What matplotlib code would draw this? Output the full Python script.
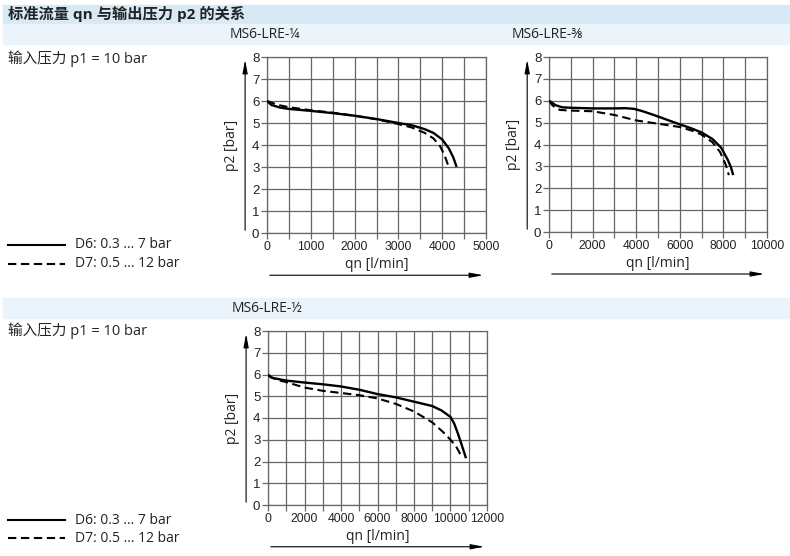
import numpy as np
import matplotlib.pyplot as plt
from matplotlib.patches import Rectangle

plt.rcParams['font.family'] = ['Open Sans', 'Noto Sans CJK SC', 'DejaVu Sans']
tickfont = ['Liberation Sans', 'DejaVu Sans']

# --- data (qn in l/min, p2 in bar) ---
q14_d6 = [0, 100, 300, 500, 1000, 1500, 2000, 2500, 3000, 3300, 3600, 3800, 4000, 4150, 4250, 4330]
p14_d6 = [6.0, 5.82, 5.7, 5.64, 5.55, 5.45, 5.33, 5.18, 5.0, 4.9, 4.72, 4.55, 4.25, 3.85, 3.45, 3.0]
q14_d7 = [0, 250, 500, 1000, 1500, 2000, 2500, 3000, 3300, 3600, 3800, 3950, 4050, 4150]
p14_d7 = [6.0, 5.82, 5.72, 5.58, 5.47, 5.33, 5.17, 4.95, 4.8, 4.55, 4.3, 3.95, 3.55, 3.0]

q38_d6 = [0, 150, 300, 600, 1000, 2000, 3000, 3500, 3900, 4300, 4600, 5000, 5500, 6000, 6500, 7000, 7500, 7900, 8200, 8350, 8450]
p38_d6 = [6.0, 5.9, 5.8, 5.7, 5.68, 5.65, 5.65, 5.66, 5.63, 5.52, 5.42, 5.28, 5.1, 4.92, 4.75, 4.55, 4.25, 3.85, 3.3, 2.95, 2.6]
q38_d7 = [0, 150, 300, 500, 1000, 2000, 3000, 4000, 5000, 6000, 6600, 7000, 7500, 7850, 8100, 8250]
p38_d7 = [6.0, 5.8, 5.68, 5.58, 5.55, 5.52, 5.35, 5.1, 4.95, 4.8, 4.62, 4.45, 4.1, 3.65, 3.1, 2.6]

q12_d6 = [0, 200, 1000, 2000, 3000, 4000, 5000, 6000, 7000, 8000, 9000, 9500, 10000, 10200, 10400, 10600, 10850]
p12_d6 = [6.0, 5.85, 5.72, 5.63, 5.55, 5.45, 5.3, 5.1, 4.95, 4.75, 4.55, 4.35, 4.05, 3.75, 3.3, 2.8, 2.15]
q12_d7 = [0, 500, 1000, 2000, 3000, 4000, 5000, 6000, 7000, 8000, 9000, 9600, 10000, 10300, 10620]
p12_d7 = [5.95, 5.75, 5.65, 5.4, 5.25, 5.15, 5.05, 4.9, 4.65, 4.3, 3.8, 3.35, 3.0, 2.7, 2.22]

titles = ['MS6-LRE-¼', 'MS6-LRE-⅜', 'MS6-LRE-½']
xlims = [5000, 10000, 12000]
xsteps = [500, 1000, 1000]
xlabsteps = [1000, 2000, 2000]
legend_labels = ['D6: 0.3 ... 7 bar', 'D7: 0.5 ... 12 bar']

W, H = 790, 556
fig = plt.figure(figsize=(W / 100, H / 100), dpi=100)

def fx(px):
    return px / W

def fy(py):
    return 1 - py / H

# header bands
fig.patches.append(Rectangle((fx(3), fy(24)), 1, 19 / H, transform=fig.transFigure,
                             color='#d6e9f4', zorder=0))
fig.patches.append(Rectangle((fx(3), fy(44)), 1, 20 / H, transform=fig.transFigure,
                             color='#eaf4fa', zorder=0))
fig.patches.append(Rectangle((fx(3), fy(318)), 1, 20 / H, transform=fig.transFigure,
                             color='#eaf4fa', zorder=0))

fig.text(fx(8), fy(14), '标准流量 qn 与输出压力 p2 的关系', fontsize=11, fontweight='bold',
         va='center', color='#222222')
fig.text(fx(8), fy(59), '输入压力 p1 = 10 bar', fontsize=10.5, va='center', color='#222222')
fig.text(fx(8), fy(331), '输入压力 p1 = 10 bar', fontsize=10.5, va='center', color='#222222')

# legends
dash = (4, 2.2)
for ly, style, lab in [(245, '-', legend_labels[0]), (264, '--', legend_labels[1]),
                       (520, '-', legend_labels[0]), (538, '--', legend_labels[1])]:
    fig.add_artist(plt.Line2D([fx(8), fx(65)], [fy(ly), fy(ly)], color='black',
                              lw=1.5, ls=style, dashes=dash if style == '--' else (None, None)))
    fig.text(fx(75), fy(ly), lab, fontsize=10, va='center', color='#222222')

boxes = [(267, 57, 486, 233), (549, 57, 767, 232), (268, 331, 487, 505)]
title_pos = [(230, 35), (512, 35), (232, 308)]
series = [((q14_d6, p14_d6), (q14_d7, p14_d7)),
          ((q38_d6, p38_d6), (q38_d7, p38_d7)),
          ((q12_d6, p12_d6), (q12_d7, p12_d7))]

for i in range(3):
    x0, y0, x1, y1 = boxes[i]
    ax = fig.add_axes([fx(x0), fy(y1), (x1 - x0) / W, (y1 - y0) / H])
    (qa, pa), (qb, pb) = series[i]
    ax.plot(qa, pa, color='black', lw=1.7, solid_capstyle='butt', solid_joinstyle='round', zorder=3)
    ax.plot(qb, pb, color='black', lw=1.5, ls='--', dashes=dash, zorder=3)
    ax.set_xlim(0, xlims[i])
    ax.set_ylim(0, 8)
    xt = np.arange(0, xlims[i] + 1, xsteps[i])
    ax.set_xticks(xt)
    ax.set_xticklabels([str(v) if v % xlabsteps[i] == 0 else '' for v in xt], family=tickfont, fontsize=8.8)
    ax.set_yticks(range(0, 9))
    ax.set_yticklabels([str(v) for v in range(0, 9)], family=tickfont, fontsize=9.5)
    ax.grid(True, color='#666666', lw=0.9)
    for s in ax.spines.values():
        s.set_color('#666666')
        s.set_linewidth(0.9)
    ax.tick_params(length=4, width=0.9, color='#666666', pad=1.5, labelcolor='#222222')
    ax.set_xlabel('qn [l/min]', fontsize=10, labelpad=3, color='#222222')
    ax.set_ylabel('p2 [bar]', fontsize=10, labelpad=9, color='#222222')
    # axis arrows
    ax.annotate('', xy=(-0.1, 1.0), xytext=(-0.1, 0.0), xycoords='axes fraction',
                arrowprops=dict(arrowstyle='-|>,head_length=0.8,head_width=0.15', color='black', lw=0.8))
    ax.annotate('', xy=(1.0, -0.24), xytext=(0.0, -0.24), xycoords='axes fraction',
                arrowprops=dict(arrowstyle='-|>,head_length=0.8,head_width=0.15', color='black', lw=0.8))
    fig.text(fx(title_pos[i][0]), fy(title_pos[i][1]), titles[i], fontsize=10, va='center',
             color='#222222')

fig.savefig('out.png', dpi=100)
